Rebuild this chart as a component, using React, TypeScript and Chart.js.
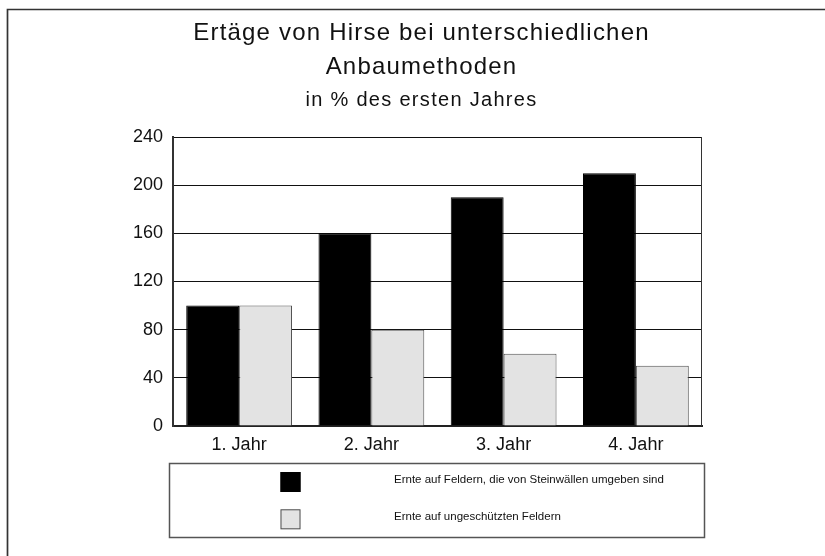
import React, { useEffect, useRef } from 'react';
import { Chart, registerables } from 'chart.js';

Chart.register(...registerables);

const categories = ['1. Jahr', '2. Jahr', '3. Jahr', '4. Jahr'];
const walledFields = [100, 160, 190, 210];
const unprotectedFields = [100, 80, 60, 50];
const seriesLabels = [
  'Ernte auf Feldern, die von Steinwällen umgeben sind',
  'Ernte auf ungeschützten Feldern',
];
const titleLines = ['Ertäge von Hirse bei unterschiedlichen', 'Anbaumethoden'];
const subtitleText = 'in % des ersten Jahres';
const yTicks = [0, 40, 80, 120, 160, 200, 240];

const FONT = "'Liberation Sans', Arial, Helvetica, sans-serif";

const titleSpacingPlugin = {
  id: 'titleSpacing',
  afterInit(chart: any) {
    chart.boxes.forEach((box: any) => {
      if (box.axis || !box.options || !('text' in box.options) || 'labels' in box.options) return;
      const orig = box.draw.bind(box);
      const spacing = box === chart.titleBlock ? '1.2px' : '1.3px';
      box.draw = (area: any) => {
        const ctx = chart.ctx;
        const prev = ctx.letterSpacing;
        ctx.letterSpacing = spacing;
        orig(area);
        ctx.letterSpacing = prev || '0px';
      };
    });
  },
};

const framePlugin = {
  id: 'pageFrame',
  beforeDraw(chart: any) {
    const ctx = chart.ctx;
    ctx.save();
    ctx.strokeStyle = '#333';
    ctx.lineWidth = 1.7;
    ctx.beginPath();
    ctx.moveTo(7.5, chart.height);
    ctx.lineTo(7.5, 9.5);
    ctx.lineTo(chart.width, 9.5);
    ctx.stroke();
    ctx.restore();
  },
  beforeDatasetsDraw(chart: any) {
    const { ctx, chartArea } = chart;
    ctx.save();
    ctx.strokeStyle = '#333';
    ctx.lineWidth = 1;
    ctx.beginPath();
    ctx.moveTo(Math.round(chartArea.right) - 0.5, chartArea.top);
    ctx.lineTo(Math.round(chartArea.right) - 0.5, chartArea.bottom);
    ctx.stroke();
    ctx.restore();
  },
};

const boxLegendPlugin = {
  id: 'boxLegend',
  afterDraw(chart: any, _args: any, opts: any) {
    const ctx = chart.ctx;
    ctx.save();
    ctx.strokeStyle = '#555';
    ctx.lineWidth = 1.5;
    ctx.strokeRect(opts.left, opts.top, opts.width, opts.height);
    chart.data.datasets.forEach((ds: any, i: number) => {
      const cy = opts.top + opts.firstRow + i * opts.rowGap;
      ctx.fillStyle = ds.backgroundColor;
      ctx.fillRect(opts.swatchX, cy - 10, 20, 20);
      ctx.strokeStyle = ds.borderColor;
      ctx.lineWidth = 1;
      ctx.strokeRect(opts.swatchX + 0.5, cy - 9.5, 19, 19);
      ctx.fillStyle = '#111';
      ctx.font = `11.5px ${FONT}`;
      ctx.textAlign = 'left';
      ctx.textBaseline = 'middle';
      ctx.fillText(ds.label, opts.textX, cy - 2);
    });
    ctx.restore();
  },
};

export default function App() {
  const canvasRef = useRef<HTMLCanvasElement | null>(null);

  useEffect(() => {
    if (!canvasRef.current) return;
    const chart = new Chart(canvasRef.current, {
      type: 'bar',
      data: {
        labels: categories,
        datasets: [
          {
            label: seriesLabels[0],
            data: walledFields,
            backgroundColor: '#000000',
            borderColor: '#000000',
            borderWidth: 1,
          },
          {
            label: seriesLabels[1],
            data: unprotectedFields,
            backgroundColor: '#e3e3e3',
            borderColor: '#505050',
            borderWidth: 1,
          },
        ],
      },
      plugins: [titleSpacingPlugin, framePlugin, boxLegendPlugin],
      options: {
        responsive: false,
        animation: false,
        devicePixelRatio: 1,
        events: [],
        layout: { padding: { left: 18, right: 0, top: 0, bottom: 0 } },
        datasets: { bar: { categoryPercentage: 0.8, barPercentage: 1.0 } },
        plugins: {
          legend: { display: false },
          tooltip: { enabled: false },
          title: {
            display: true,
            text: titleLines,
            color: '#111',
            font: { family: FONT, size: 24, weight: 'normal', lineHeight: 1.4 },
            padding: { top: 16.5, bottom: 5 },
          },
          subtitle: {
            display: true,
            text: subtitleText,
            color: '#111',
            font: { family: FONT, size: 20, weight: 'normal', lineHeight: 1.2 },
            padding: { top: 0, bottom: 24.3 },
          },
          boxLegend: {
            left: 169.5,
            top: 463.5,
            width: 535,
            height: 74,
            swatchX: 280.5,
            textX: 394,
            firstRow: 18.5,
            rowGap: 37.3,
          },
        } as any,
        scales: {
          x: {
            grid: { display: false, drawTicks: false },
            border: { display: true, color: '#222', width: 2 },
            ticks: { color: '#111', font: { family: FONT, size: 18 }, padding: 8 },
            afterFit: (s: any) => {
              s.height = 130;
            },
          },
          y: {
            min: 0,
            max: 240,
            grid: { color: '#111', lineWidth: 1, drawTicks: false },
            border: { display: true, color: '#333', width: 2 },
            ticks: { color: '#111', font: { family: FONT, size: 18 }, padding: 10, stepSize: 40 },
            afterBuildTicks: (s: any) => {
              s.ticks = yTicks.map((v) => ({ value: v }));
            },
            afterFit: (s: any) => {
              s.width = 155;
            },
          },
          spacer: {
            type: 'linear',
            position: 'right',
            display: true,
            grid: { display: false, drawTicks: false },
            border: { display: false },
            ticks: { display: false },
            afterFit: (s: any) => {
              s.width = 123;
            },
          },
        } as any,
      },
    });
    return () => chart.destroy();
  }, []);

  return (
    <div style={{ position: 'fixed', left: 0, top: 0, width: 825, height: 556, background: '#fff' }}>
      <canvas ref={canvasRef} width={825} height={556} style={{ display: 'block', width: 825, height: 556 }} />
    </div>
  );
}
